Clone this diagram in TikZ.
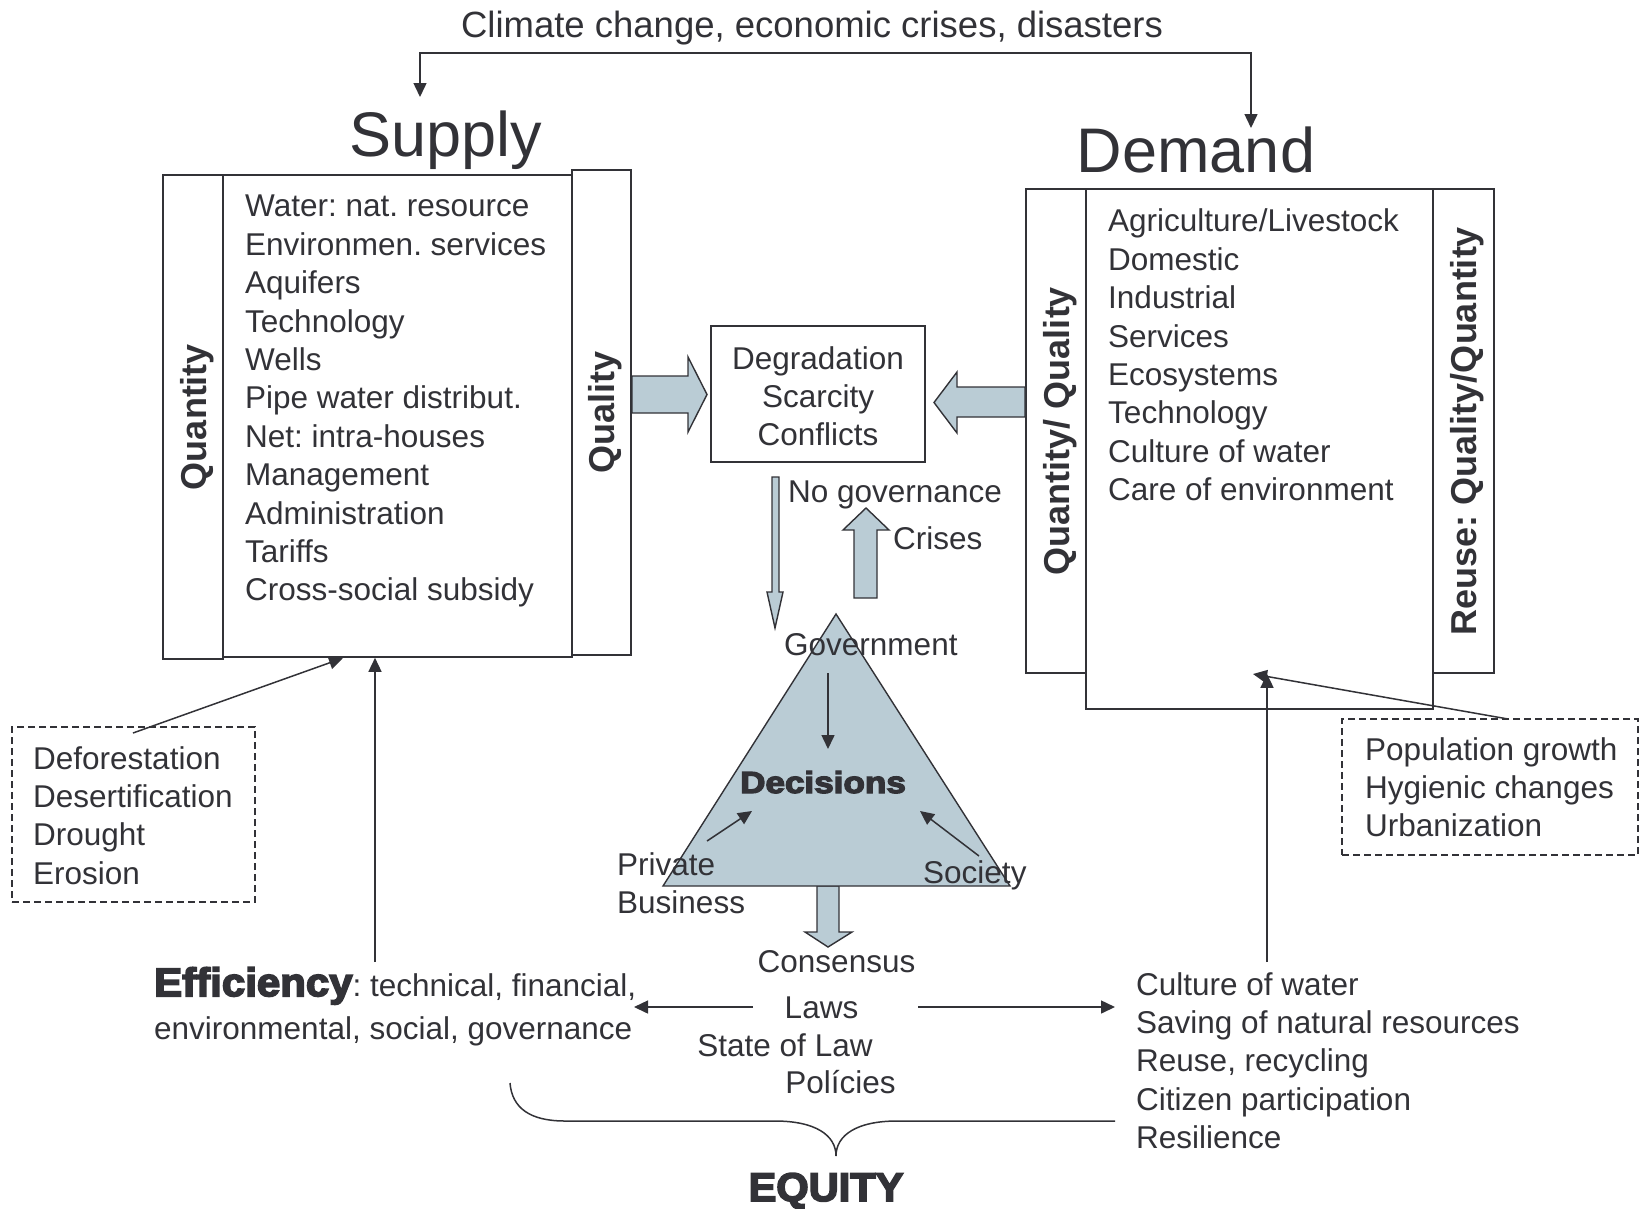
\documentclass[tikz,border=0pt]{standalone}
\usepackage{fontspec}
\usepackage{graphicx}
\setmainfont{Liberation Sans}
\newfontfamily\heavyfont[BoldFeatures={FakeBold=4}]{Liberation Sans}
\usetikzlibrary{arrows.meta,calc}
\definecolor{ink}{RGB}{50,50,55}
\definecolor{fillb}{RGB}{186,204,213}
\frenchspacing
\begin{document}
\frenchspacing
\begin{tikzpicture}[x=1pt,y=-1pt,
  every node/.style={inner sep=0pt, text=ink},
  txt/.style={font=\fontsize{31.5}{38.4}\selectfont, align=left},
  ctxt/.style={font=\fontsize{31.5}{38.4}\selectfont, align=center},
  lab/.style={font=\fontsize{36}{40}\selectfont\bfseries, rotate=90, text height=26pt, text depth=0pt, anchor=center},
  frame/.style={draw=ink, line width=1.6pt},
  dframe/.style={draw=ink, line width=1.4pt, dash pattern=on 7pt off 4pt},
  con/.style={draw=ink, line width=1.5pt, -{Triangle[length=14pt,width=13pt]}},
  fat/.style={fill=fillb, draw=ink, line width=1.4pt, line join=miter},
]
\useasboundingbox (0,0) rectangle (1640,1208);

% ---- title and top connector
\node[font=\fontsize{36.5}{40}\selectfont, anchor=base] (climate) at (812,37) {Climate change, economic crises, disasters};
\coordinate (tm) at (836,53);
\coordinate (tl) at (420,97);
\coordinate (tr) at (1251,128);
\draw[con] (tm) -| (tl);
\draw[con] (tm) -| (tr);

\node[font=\fontsize{63}{70}\selectfont, anchor=base] (supply) at (446,156) {Supply};
\node[font=\fontsize{63}{70}\selectfont, anchor=base] (demand) at (1196,172) {Demand};

% ---- supply boxes
\node[frame, minimum width=60pt, minimum height=484pt] (sq) at (193,417) {};
\node[frame, minimum width=349pt, minimum height=482pt] (sm) at (397.5,416) {};
\node[frame, minimum width=59pt, minimum height=485pt] (sr) at (601.5,412.5) {};
\node[lab] (sqlab) at (sq.center) {Quantity};
\node[lab] (srlab) at (sr.center) {Quality};
\node[txt, anchor=north west] (stext) at (245,189.8) {\strut Water: nat. resource\\Environmen. services\\Aquifers\\Technology\\Wells\\Pipe water distribut.\\Net: intra-houses\\Management\\Administration\\Tariffs\\Cross-social subsidy};

% ---- demand boxes
\node[frame, minimum width=60pt, minimum height=484pt] (dq) at (1056,431) {};
\node[frame, minimum width=347pt, minimum height=520pt] (dm) at (1259.5,449) {};
\node[frame, minimum width=61pt, minimum height=484pt] (dr) at (1463.5,431) {};
\node[lab] (dqlab) at (dq.center) {Quantity/ Quality};
\node[lab] (drlab) at (dr.center) {Reuse: Quality/Quantity};
\node[txt, anchor=north west] (dtext) at (1108,204.8) {\strut Agriculture/Livestock\\Domestic\\Industrial\\Services\\Ecosystems\\Technology\\Culture of water\\Care of environment};

% ---- central box
\node[frame, minimum width=214pt, minimum height=136pt] (deg) at (818,394) {};
\node[ctxt, anchor=north] (degt) at (818,342.1) {\strut Degradation\\Scarcity\\Conflicts};

% ---- fat arrows
\draw[fat] (632,376) -- (688,376) -- (688,357) -- (707,394.5) -- (688,432) -- (688,413) -- (632,413) -- cycle;
\draw[fat] (1025,387) -- (957,387) -- (957,372) -- (934,402.5) -- (957,433) -- (957,417) -- (1025,417) -- cycle;
\draw[fat] (772,477) -- (779,477) -- (779,592) -- (783,592) -- (775,628) -- (767,592) -- (772,592) -- cycle;
\draw[fat] (854,598) -- (854,530) -- (843,530) -- (866,508) -- (889,530) -- (877,530) -- (877,598) -- cycle;
\draw[fat] (817,886) -- (817,932) -- (805,932) -- (828,947) -- (852,932) -- (839,932) -- (839,886) -- cycle;

\node[txt, anchor=base west] (nogov) at (788,502) {No governance};
\node[txt, anchor=base west] (crises) at (893,549) {Crises};

% ---- triangle
\coordinate (ta) at (836,614);
\coordinate (tb) at (1010,886);
\coordinate (tc) at (663,886);
\draw[fat] (ta) -- (tb) -- (tc) -- cycle;
\node[txt, anchor=base west] (gov) at (784,655) {Government};
\node[anchor=base, font=\fontsize{30.5}{34}\selectfont\heavyfont\bfseries] (dec) at (823,793) {\scalebox{1.15}[1]{Decisions}};
\node[txt, anchor=north west] (priv) at (617,848.1) {\strut Private\\Business};
\node[txt, anchor=base west] (soc) at (923,883) {Society};
\coordinate (g1) at (828,673); \coordinate (g2) at (828,749);
\coordinate (p1) at (707,841); \coordinate (p2) at (752,811);
\coordinate (s1) at (979,856); \coordinate (s2) at (920,811);
\draw[con] (g1) -- (g2);
\draw[con] (p1) -- (p2);
\draw[con] (s1) -- (s2);

% ---- consensus block
\node[txt, anchor=base] (cons) at (836.5,972) {Consensus};
\node[txt, anchor=base] (laws) at (821.5,1018) {Laws};
\node[txt, anchor=base] (sol) at (785,1056) {State of Law};
\node[txt, anchor=base] (pol) at (840.5,1093) {Polícies};
\coordinate (la) at (753,1007); \coordinate (lb) at (634,1007);
\coordinate (ra) at (918,1007); \coordinate (rb) at (1115,1007);
\draw[con] (la) -- (lb);
\draw[con] (ra) -- (rb);

% ---- efficiency
\node[txt, anchor=north west] (eff) at (154,964) {\rule{0pt}{32pt}{\heavyfont\bfseries\fontsize{40}{40}\selectfont\scalebox{1.05}[1]{Efficiency}}: technical, financial,\\[5pt]environmental, social, governance};
\coordinate (e1) at (375,962);
\draw[con] (e1) -- (e1 |- sm.south);

% ---- right bottom list
\node[txt, anchor=north west] (rlist) at (1136,968.1) {\strut Culture of water\\Saving of natural resources\\Reuse, recycling\\Citizen participation\\Resilience};
\coordinate (c1) at (1267,962);
\draw[con] (c1) -- (c1 |- dq.south);

% ---- dashed boxes
\node[dframe, minimum width=243pt, minimum height=175pt] (ldb) at (133.5,814.5) {};
\node[txt, anchor=north west] (ldt) at (33,742.1) {\strut Deforestation\\Desertification\\Drought\\Erosion};
\node[dframe, minimum width=296pt, minimum height=136pt] (rdb) at (1490,787) {};
\node[txt, anchor=north west] (rdt) at (1365,733.1) {\strut Population growth\\Hygienic changes\\Urbanization};
\coordinate (lds) at (133,733);
\coordinate (ldt2) at (343,658);
\draw[con] (lds) -- (ldt2);
\coordinate (rds) at (1508,719);
\coordinate (rdt2) at (1253,674);
\draw[con] (rds) -- (rdt2);

% ---- brace and equity
\draw[ink, line width=1.5pt] (510,1083) .. controls (512,1108) and (530,1121) .. (565,1121) -- (775,1121) .. controls (815,1121) and (836,1135) .. (836,1156) .. controls (836,1135) and (857,1121) .. (897,1121) -- (1115,1121);
\node[anchor=base, font=\fontsize{40}{44}\selectfont\heavyfont\bfseries] (equity) at (826,1201) {\scalebox{1.04}[1]{EQUITY}};
\end{tikzpicture}
\end{document}
